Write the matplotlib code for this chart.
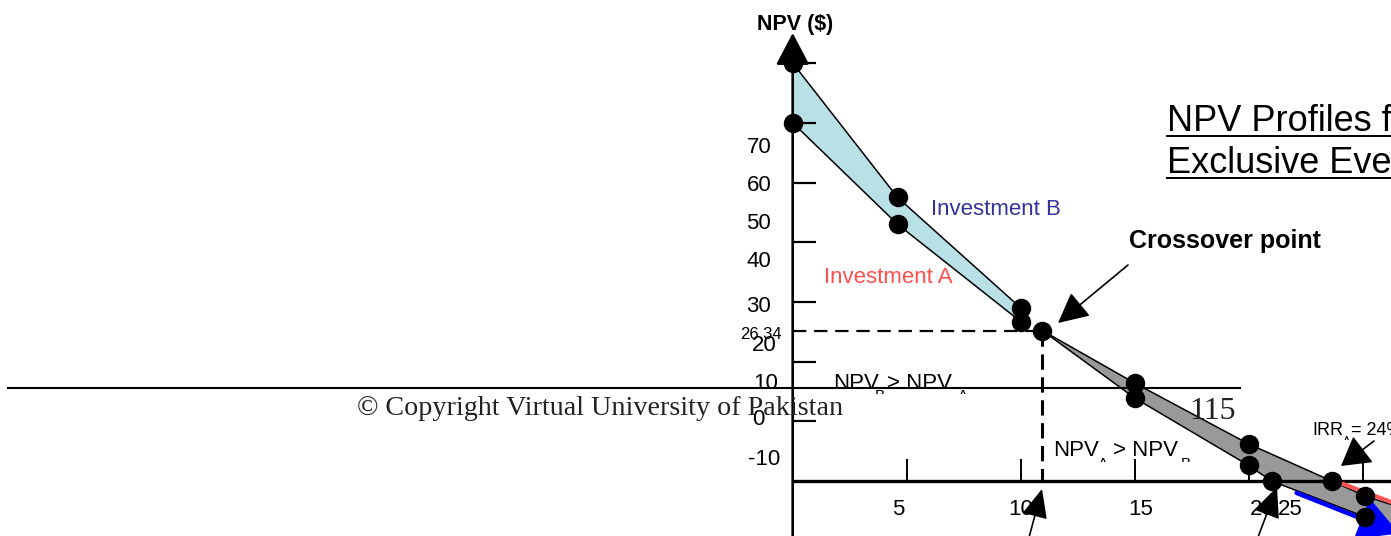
import matplotlib
matplotlib.use('Agg')
import matplotlib.pyplot as plt
from matplotlib.patches import Polygon, FancyArrowPatch
from matplotlib.transforms import Bbox

plt.rcParams['font.family'] = ['Liberation Sans', 'DejaVu Sans']

W, H, DPI = 1391, 536, 100

# ---------------- data (discount rate %, NPV $) ----------------
rate_B = [0.0, 4.6, 10.0, 15.0, 20.0, 21.0, 25.1]
npv_B = [70.0, 47.5, 29.0, 13.9, 2.6, 0.0, -6.0]
rate_A = [0.0, 4.6, 10.0, 15.0, 20.0, 23.64, 25.1]
npv_A = [60.0, 43.0, 26.7, 16.4, 6.2, 0.0, -2.5]
edge_A = (26.3, -4.0)          # where profile A leaves the picture
edge_B = (26.3, -8.1)          # where profile B leaves the picture
cross_rate, cross_npv = 10.95, 25.2
cross_label = '26.34'
red_rate, red_npv = [24.0, 26.3], [-0.3, -3.6]
blue_rate, blue_npv = [22.1, 26.6], [-2.0, -8.8]

ytick_vals = [10, 20, 30, 40, 50, 60, 70]
xtick_vals = [5, 10, 15, 20, 25]
ytick_labels = ['70', '60', '50', '40', '30', '20', '10', '0', '-10']
xtick_labels = ['5', '10', '15', '20', '25']

# ---------------- layout: pixel <-> data mapping ----------------
X0, SX = 792.7, 22.8     # pixel x of 0 %, pixels per 1 %
Y0, SY = 481.0, 5.97     # pixel y of NPV 0, pixels per $1


def P(px, py):
    return ((px - X0) / SX, (Y0 - py) / SY)


fig = plt.figure(figsize=(W / DPI, H / DPI), dpi=DPI)
ax = fig.add_axes([0, 0, 1, 1])
ax.set_xlim(P(0, 0)[0], P(W, 0)[0])
ax.set_ylim(P(0, H)[1], P(0, 0)[1])
ax.axis('off')

# ---------------- fills ----------------
light = list(zip(rate_B[:3], npv_B[:3])) + list(zip(rate_A[:3], npv_A[:3]))[::-1]
ax.add_patch(Polygon(light, closed=True, fc='#B9E0E4', ec='none', zorder=1))
upper = [(cross_rate, cross_npv)] + list(zip(rate_A[3:], npv_A[3:])) + [edge_A]
lower = [(cross_rate, cross_npv)] + list(zip(rate_B[3:], npv_B[3:])) + [edge_B]
ax.add_patch(Polygon(upper + lower[::-1], closed=True, fc='#999999', ec='none', zorder=1))

# profile edges
ax.plot(rate_B[:3], npv_B[:3], color='black', lw=1.1, zorder=3)
ax.plot(rate_A[:3], npv_A[:3], color='black', lw=1.1, zorder=3)
ax.plot([p[0] for p in upper], [p[1] for p in upper], color='black', lw=1.1, zorder=3)
ax.plot([p[0] for p in lower], [p[1] for p in lower], color='black', lw=1.1, zorder=3)

# red / blue continuation lines
ax.plot(red_rate, red_npv, color='#FF5555', lw=3.0, solid_capstyle='butt', zorder=3.5)
ax.add_patch(FancyArrowPatch((blue_rate[0], blue_npv[0]), (blue_rate[1], blue_npv[1]),
                             arrowstyle='-|>,head_length=24,head_width=13', mutation_scale=1,
                             lw=3.2, color='#0000FF', shrinkA=0, shrinkB=0, zorder=3.6))

# ---------------- axes ----------------
ax.plot([0, P(W, 0)[0]], [0, 0], color='black', lw=2.4, solid_capstyle='butt', zorder=2.5)
ax.add_patch(FancyArrowPatch(P(X0, H + 5), P(X0, 33),
                             arrowstyle='-|>,head_length=20,head_width=10.5', mutation_scale=1,
                             lw=1.9, color='black', shrinkA=0, shrinkB=0, zorder=2.6))
ax.hlines(ytick_vals, 0, 23 / SX, color='black', lw=1.6, zorder=2.5)
ax.vlines(xtick_vals, 0, 22 / SY, color='black', lw=1.4, zorder=2.5)

# crossover guides
ax.plot([0, cross_rate], [cross_npv, cross_npv], color='black', lw=1.6,
        ls=(0, (6, 3.5)), zorder=2.7)
ax.plot([cross_rate, cross_rate], [cross_npv, 0], color='black', lw=2.2,
        ls=(0, (5, 2.5)), zorder=2.7)

# dots
ax.plot(rate_B, npv_B, 'o', color='black', ms=13, zorder=4)
ax.plot(rate_A, npv_A, 'o', color='black', ms=13, zorder=4)
ax.plot([cross_rate], [cross_npv], 'o', color='black', ms=13, zorder=4)

# ---------------- labels ----------------
def T(px, py, s, **kw):
    kw.setdefault('va', 'baseline')
    kw.setdefault('zorder', 6)
    return ax.text(*P(px, py), s, **kw)


T(795, 30, 'NPV ($)', fontsize=15.5, fontweight='bold', ha='center')
ylab_pos = [(772, 153), (772, 191), (771, 229), (771, 267), (771, 312),
            (777, 351), (778, 389), (765, 425), (780, 465)]
for lab, (px, py) in zip(ytick_labels, ylab_pos):
    T(px, py, lab, fontsize=16, ha='right')
T(782, 339, cross_label, fontsize=12, ha='right')

xlab_pos = [898, 1021, 1141, 1262, 1290]
for lab, px in zip(xtick_labels, xlab_pos):
    T(px, 515, lab, fontsize=16, ha='center')

T(931, 215, 'Investment B', fontsize=16, color='#333399', ha='left')
T(824, 283, 'Investment A', fontsize=16, color='#FF5050', ha='left')
T(1129, 248, 'Crossover point', fontsize=18, fontweight='bold', ha='left')

t1 = T(1167, 131, 'NPV Profiles for Mutually', fontsize=26, ha='left')
t2 = T(1167, 173, 'Exclusive Events', fontsize=26, ha='left')


def clipped_sub(px, py, s, clip_py, size=11):
    t = T(px, py, s, fontsize=size, ha='left', va='top')
    t.set_clip_box(Bbox.from_extents(0, H - clip_py, W, H))
    t.set_clip_on(True)
    return t


# NPV_B > NPV_A
T(833, 389, 'NPV', fontsize=16, ha='left')
clipped_sub(875, 389.5, 'B', 394)
T(887, 389, '> NPV', fontsize=16, ha='left')
clipped_sub(958, 389.5, 'A', 394)
# NPV_A > NPV_B
T(1053, 456, 'NPV', fontsize=16, ha='left')
clipped_sub(1098, 457.5, 'A', 462)
T(1113, 456, '> NPV', fontsize=16, ha='left')
clipped_sub(1181, 457.5, 'B', 462)
# IRR_A
T(1312, 435, 'IRR', fontsize=13, ha='left')
clipped_sub(1343, 436, 'A', 440, size=8)
T(1351, 435, '= 24%', fontsize=13, ha='left')

# annotation arrows
def arrow(tail, tip, hl, hw, lw=1.2):
    ax.add_patch(FancyArrowPatch(P(*tail), P(*tip),
                                 arrowstyle=f'-|>,head_length={hl},head_width={hw}',
                                 mutation_scale=1, lw=lw, color='black',
                                 shrinkA=0, shrinkB=0, zorder=5))


arrow((1128, 265), (1058, 323), 19, 9.5)
arrow((1027, 545), (1042, 489), 18, 8)
arrow((1255, 545), (1277, 487), 19, 8.5)
arrow((1374, 441), (1341, 466), 18, 10.5)

# slide footer
ax.plot([P(8, 0)[0], P(1240, 0)[0]], [P(0, 388)[1]] * 2, color='black', lw=1.5, zorder=5)
cp = T(357, 415, '\u00a9 Copyright Virtual University of Pakistan', fontsize=19,
       ha='left', family=['Liberation Serif', 'DejaVu Serif'], color='#222222')
T(1213, 419, '115', fontsize=23, ha='center', family=['Liberation Serif', 'DejaVu Serif'],
  color='#222222')

# fit copyright width and underline title
fig.canvas.draw()
r = fig.canvas.get_renderer()
w = cp.get_window_extent(r).width
cp.set_fontsize(19 * 486 / w)
for t, py in ((t1, 136), (t2, 178)):
    bb = t.get_window_extent(r)
    ax.plot([P(bb.x0, 0)[0], P(bb.x1, 0)[0]], [P(0, py)[1]] * 2, color='black', lw=1.4, zorder=6)

fig.savefig('out.png', dpi=DPI)
